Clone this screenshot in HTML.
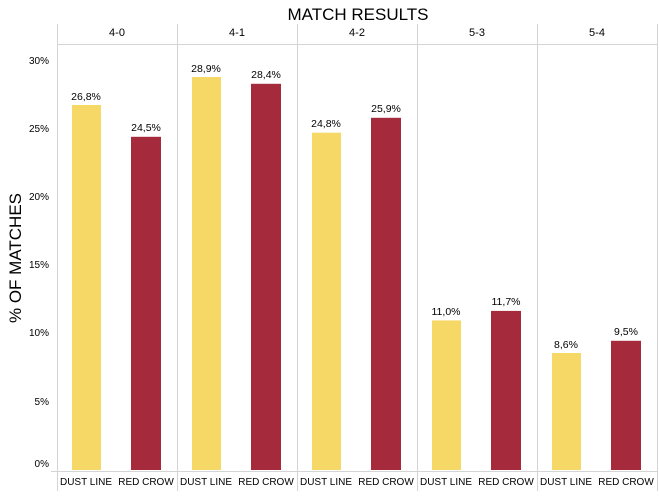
<!DOCTYPE html><html><head><style>
body{margin:0;background:#fff;width:659px;height:491px;overflow:hidden;font-family:"Liberation Sans",sans-serif}
</style></head><body>
<svg width="659" height="491" xmlns="http://www.w3.org/2000/svg" font-family="Liberation Sans, sans-serif">
<text x="358" y="20" font-size="17" text-anchor="middle">MATCH RESULTS</text>
<g stroke="#d4d4d4" stroke-width="1">
<line x1="57.5" y1="24" x2="57.5" y2="491"/><line x1="177.5" y1="24" x2="177.5" y2="491"/><line x1="297.5" y1="24" x2="297.5" y2="491"/><line x1="417.5" y1="24" x2="417.5" y2="491"/><line x1="537.5" y1="24" x2="537.5" y2="491"/><line x1="657.5" y1="24" x2="657.5" y2="491"/>
<line x1="57" y1="44.5" x2="658" y2="44.5"/><line x1="51" y1="471.5" x2="658" y2="471.5"/>
</g>
<g font-size="11" text-anchor="middle">
<text x="117" y="36">4-0</text><text x="237" y="36">4-1</text><text x="357" y="36">4-2</text><text x="477" y="36">5-3</text><text x="597" y="36">5-4</text>
</g>
<g font-size="10" text-anchor="end">
<text x="49" y="64">30%</text><text x="49" y="132">25%</text><text x="49" y="200">20%</text><text x="49" y="268">15%</text><text x="49" y="336">10%</text><text x="49" y="405">5%</text><text x="49" y="467">0%</text>
</g>
<text transform="translate(21,258) rotate(-90)" font-size="17" text-anchor="middle">% OF MATCHES</text>
<g id="bars"></g>
<g font-size="10" text-anchor="middle">
<text x="86" y="485">DUST LINE</text><text x="146" y="485">RED CROW</text>
<text x="206" y="485">DUST LINE</text><text x="266" y="485">RED CROW</text>
<text x="326" y="485">DUST LINE</text><text x="386" y="485">RED CROW</text>
<text x="446" y="485">DUST LINE</text><text x="506" y="485">RED CROW</text>
<text x="566" y="485">DUST LINE</text><text x="626" y="485">RED CROW</text>
</g>
<g font-size="10.5" text-anchor="middle">
<rect x="72" y="105" width="29" height="365" fill="#f6d866"/><text x="86" y="100">26,8%</text>
<rect x="131" y="136.8" width="30" height="333.2" fill="#a52a3b"/><text x="146" y="131">24,5%</text>
<rect x="192" y="77" width="29" height="393" fill="#f6d866"/><text x="206" y="72">28,9%</text>
<rect x="251" y="83.8" width="30" height="386.2" fill="#a52a3b"/><text x="266" y="78">28,4%</text>
<rect x="312" y="132.7" width="29" height="337.3" fill="#f6d866"/><text x="326" y="127">24,8%</text>
<rect x="371" y="117.8" width="30" height="352.2" fill="#a52a3b"/><text x="386" y="112">25,9%</text>
<rect x="432" y="320.4" width="29" height="149.6" fill="#f6d866"/><text x="446" y="315">11,0%</text>
<rect x="491" y="310.9" width="30" height="159.1" fill="#a52a3b"/><text x="506" y="305">11,7%</text>
<rect x="552" y="353" width="29" height="117" fill="#f6d866"/><text x="566" y="348">8,6%</text>
<rect x="611" y="340.8" width="30" height="129.2" fill="#a52a3b"/><text x="626" y="335">9,5%</text>
</g>
</svg>
</body></html>
